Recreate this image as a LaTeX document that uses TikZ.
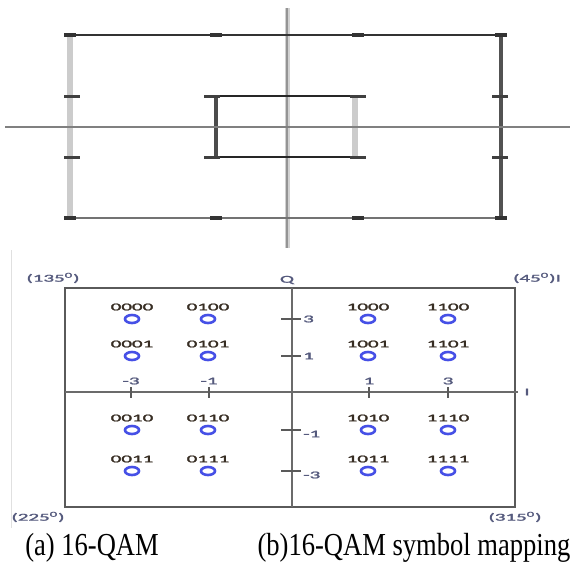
\documentclass[tikz,border=0pt]{standalone}
\usepackage{fontspec}
\setmainfont{Liberation Serif}
\newfontfamily\smallfont[FakeBold=1.6]{Carlito}
\usepackage{graphicx}
\usetikzlibrary{shapes.geometric}
\definecolor{bitcol}{RGB}{55,45,35}
\definecolor{axlab}{RGB}{85,90,125}
\definecolor{dotblue}{RGB}{70,80,230}
\definecolor{boxgray}{RGB}{90,90,90}
\newcommand\smtxt[1]{\scalebox{2.0}[1]{\smallfont\fontsize{10.5}{10.5}\selectfont #1}}
\newcommand\captxt[1]{\scalebox{0.83}[1]{\fontsize{32}{32}\selectfont #1}}
\tikzset{
  bit/.style={inner sep=0pt, text=bitcol},
  sym/.style={draw=dotblue, line width=2.6pt, ellipse, minimum width=14pt, minimum height=8pt, inner sep=0pt},
  axl/.style={inner sep=0pt, text=axlab},
  qtick/.style={draw=boxgray, line width=1.6pt},
}
\begin{document}
\begin{tikzpicture}[x=1pt,y=-1pt]
\useasboundingbox (0,0) rectangle (573,563);
% ---------------- top panel: 16-QAM ----------------
\coordinate (tl) at (70,35);
\coordinate (tr) at (501,35);
\coordinate (bl) at (70,218);
\coordinate (br) at (501,218);
\coordinate (il) at (216,96);
\coordinate (ir) at (355,96);
\coordinate (jl) at (216,157);
\coordinate (jr) at (355,157);
% axes
\coordinate (ha) at (5,127); \coordinate (hb) at (570,127);
\coordinate (va) at (287,8); \coordinate (vb) at (287,248);
\draw[line width=5pt, black!18] (va) -- (vb);
\draw[line width=2.5pt, black!42] (va) -- (vb);
% outer rectangle edges
\draw[line width=6pt, black!20] (tl) -- (bl);
\draw[line width=4pt, black!68] (tr) -- (br);
\draw[line width=2.2pt, black!80] (tl) -- (tr);
\draw[line width=2.8pt, black!55] (bl) -- (br);
% inner rectangle edges
\draw[line width=6pt, black!20] (ir) -- (jr);
\draw[line width=4pt, black!70] (il) -- (jl);
\draw[line width=1.8pt, black!85] (il) -- (ir);
\draw[line width=1.8pt, black!85] (jl) -- (jr);
\draw[line width=1.8pt, black!50] (ha) -- (hb);
% tick marks
\foreach \px/\py in {70/35,216/35,358/35,501/35,70/218,216/218,358/218,501/218}
  \draw[line width=4pt, black!80] (\px-6,\py) -- (\px+6,\py);
\foreach \px/\py in {72/96,72/157,500/96,500/157,212/96,212/157,358/96,358/157}
  \draw[line width=3pt, black!75] (\px-8,\py) -- (\px+8,\py);
% ---------------- bottom panel: symbol mapping ----------------
\draw[line width=1pt, black!12] (11,250) -- (11,528);
\coordinate (B1) at (65,288);
\coordinate (B2) at (515,507);
\draw[line width=1.8pt, draw=boxgray] (B1) rectangle (B2);
\coordinate (qa) at (292,288); \coordinate (qb) at (292,507);
\coordinate (ia) at (65,392); \coordinate (ib) at (518,392);
\draw[line width=1.8pt, draw=black!58] (qa) -- (qb);
\draw[line width=1.8pt, draw=black!58] (ia) -- (ib);
% ticks on I axis
\foreach \x/\l in {131/-3,209/-1,369/1,448/3}{
  \draw[qtick] (\x,387) -- (\x,398);
  \node[axl] at (\x,381) {\smtxt{\l}};
}
% ticks on Q axis
\foreach \y/\l/\dy in {319/3/0,356/1/0,430/-1/4,471/-3/4}{
  \draw[qtick] (281,\y) -- (301,\y);
  \node[axl, anchor=west] at (303,\y+\dy) {\smtxt{\l}};
}
% symbols
\foreach \x/\a in {132/00,208/01,368/10,448/11}{
  \foreach \y/\b in {319/00,356/01,430/10,471/11}{
    \node[sym] at (\x,\y) {};
    \node[bit] at (\x,\y-12) {\smtxt{\a\b}};
  }
}
% axis names and corner labels
\node[axl] (Q) at (287,280) {\smtxt{Q}};
\node[axl] (I) at (527,392) {\smtxt{I}};
\node[axl] (c135) at (53,278) {\smtxt{(135\textsuperscript{0})}};
\node[axl] (c45) at (537,278) {\smtxt{(45\textsuperscript{0})I}};
\node[axl] (c225) at (38,517) {\smtxt{(225\textsuperscript{0})}};
\node[axl] (c315) at (515,517) {\smtxt{(315\textsuperscript{0})}};
% captions
\node[inner sep=0pt, anchor=base] (capa) at (92,555) {\captxt{(a) 16-QAM}};
\node[inner sep=0pt, anchor=base] (capb) at (414,555) {\captxt{(b)16-QAM symbol mapping}};
\end{tikzpicture}
\end{document}
